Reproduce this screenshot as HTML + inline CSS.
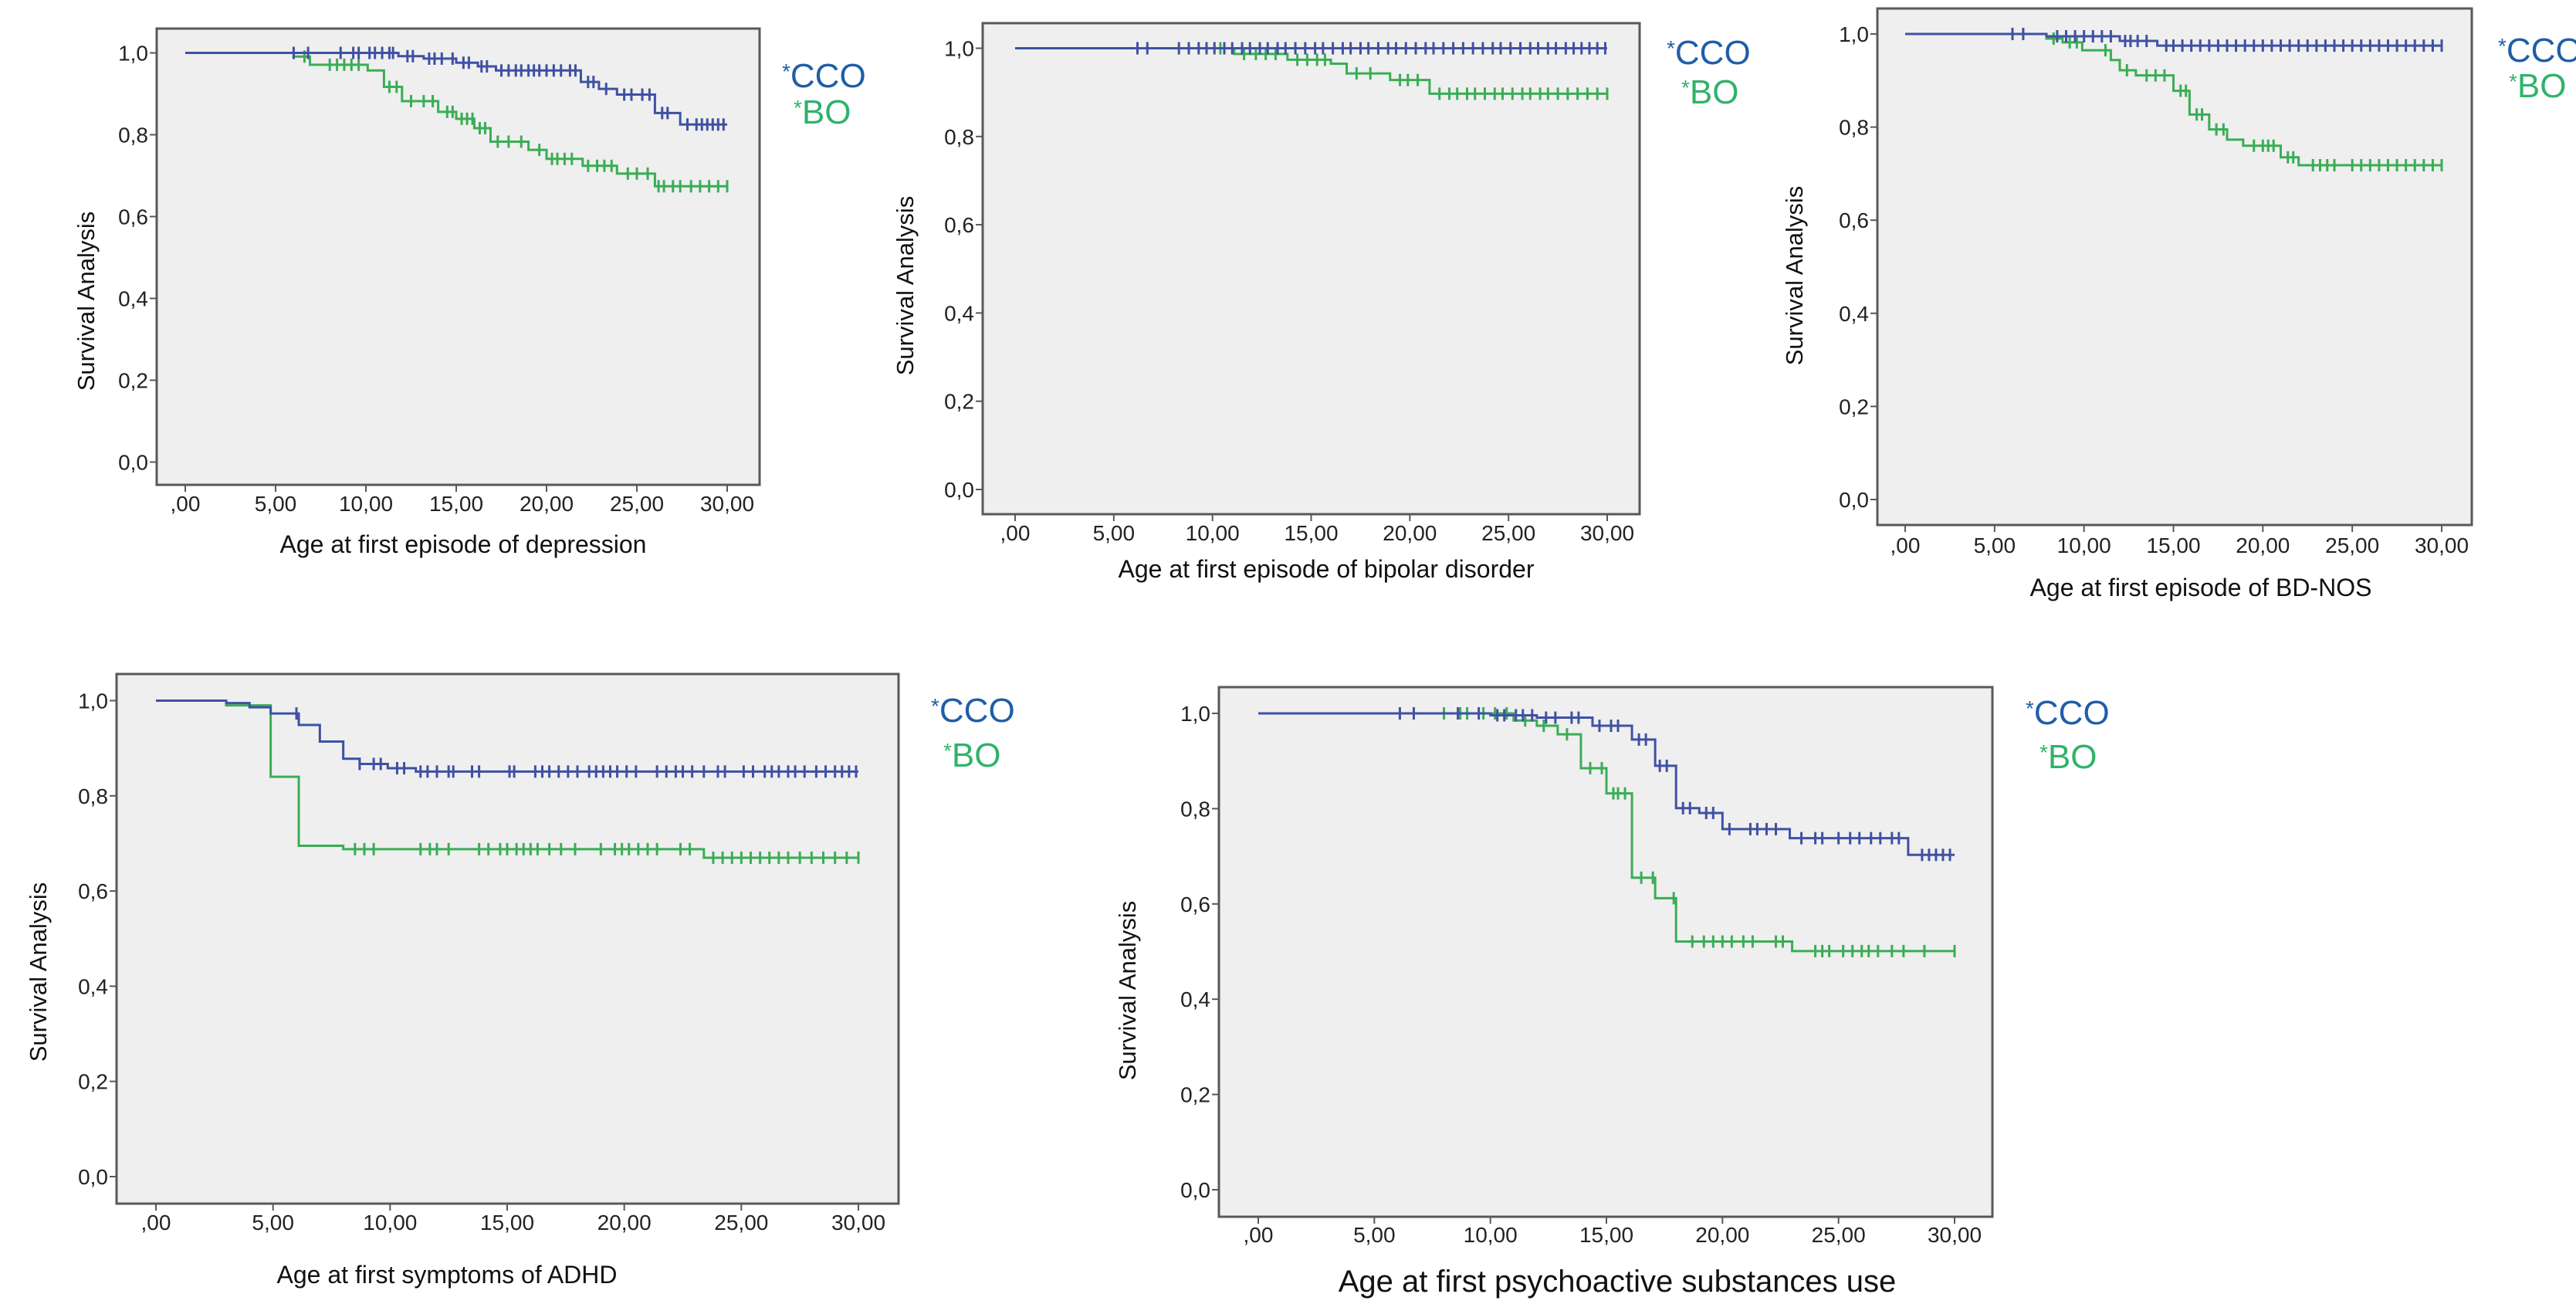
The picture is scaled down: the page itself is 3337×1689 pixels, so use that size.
<!DOCTYPE html>
<html><head><meta charset="utf-8"><style>
html,body{margin:0;padding:0;background:#fff;}
svg{display:block;}
text{font-family:"Liberation Sans",sans-serif;}
</style></head><body>
<svg id="root" width="3337" height="1689" viewBox="0 0 3337 1689"></svg>
<script>
// ---- Chart 1: depression ----
const dep_cco_t=[0,11.8,13.2,15,16.2,17.2,21.9,22.9,23.9,26,27.4];
const dep_cco_v=[1,0.992,0.986,0.976,0.967,0.957,0.929,0.912,0.898,0.853,0.825];
const dep_cco_c=[6,6.8,8.6,9.3,9.6,10.2,10.5,10.9,11.3,11.5,12.3,12.6,13.5,13.8,14.2,14.8,15.4,15.7,16.4,16.7,17.5,17.9,18.3,18.6,19,19.3,19.6,20,20.4,20.8,21.3,21.6,22.3,22.6,23.3,24.3,24.7,25.3,25.7,26.4,26.7,27.8,28.3,28.6,28.9,29.2,29.5,29.8];
const dep_bo_t=[0,6,6.9,10.1,11,12,14,15,16,16.9,19,20,22,23.9,26];
const dep_bo_v=[1,0.991,0.971,0.957,0.917,0.882,0.856,0.839,0.816,0.783,0.763,0.741,0.724,0.705,0.674];
const dep_bo_c=[6.6,8,8.4,8.8,9.2,9.6,11.3,11.7,12.5,13.2,13.7,14.5,14.8,15.3,15.6,15.9,16.3,16.6,17.3,17.9,18.6,19.6,20.3,20.6,21,21.4,22.3,22.8,23.2,23.6,24.5,25,25.6,26.2,26.5,27,27.4,28,28.5,29,29.5,30];
// ---- Chart 2: bipolar ----
const bip_cco_t=[0];
const bip_cco_v=[1];
const bip_cco_c=[6.2,6.7,8.3,8.8,9.3,9.7,10.1,10.6,11,11.5,11.9,12.4,12.8,13.3,13.7,14.2,14.7,15.2,15.6,16.1,16.6,17,17.5,17.9,18.4,18.9,19.3,19.8,20.3,20.8,21.2,21.7,22.2,22.7,23.2,23.7,24.2,24.6,25.1,25.6,26.1,26.5,27,27.4,27.9,28.3,28.7,29.1,29.5,29.9];
const bip_bo_t=[0,11.1,13.8,16,16.8,19,21];
const bip_bo_v=[1,0.987,0.974,0.965,0.943,0.928,0.897];
const bip_bo_c=[10.4,11.6,12.2,12.7,13.2,14.3,14.8,15.3,15.7,17.3,18,19.5,19.9,20.4,21.5,22,22.4,22.9,23.3,23.8,24.3,24.7,25.2,25.7,26.1,26.6,27,27.5,28,28.5,29,29.5,30];
// ---- Chart 3: BD-NOS ----
const bdn_cco_t=[0,7.9,12,14.1];
const bdn_cco_v=[1,0.995,0.985,0.975];
const bdn_cco_c=[6,6.6,8.5,9,9.5,10,10.5,11,11.5,12.3,12.6,13,13.5,14.6,15,15.5,16,16.5,17,17.5,18,18.5,19,19.5,20,20.5,21,21.5,22,22.5,23,23.5,24,24.5,25,25.5,26,26.5,27,27.5,28,28.5,29,29.5,30];
const bdn_bo_t=[0,7.9,8.8,9.9,11.5,12,12.9,15,15.9,17,18,18.9,21,22];
const bdn_bo_v=[1,0.99,0.982,0.965,0.944,0.922,0.911,0.878,0.827,0.795,0.773,0.76,0.735,0.718];
const bdn_bo_c=[8.3,9.2,9.6,11.2,12.4,13.5,14,14.5,15.4,15.7,16.3,16.6,17.4,17.8,19.5,20,20.3,20.6,21.4,21.7,22.8,23.2,23.6,24,25,25.5,26,26.5,27,27.5,28,28.5,29,29.5,30];
// ---- Chart 4: ADHD ----
const adh_cco_t=[0,3,4,4.9,6.1,7,8,8.7,9.9,11.1];
const adh_cco_v=[1,0.995,0.986,0.973,0.949,0.914,0.878,0.867,0.858,0.851];
const adh_cco_c=[6,8.7,9.3,9.6,10.3,10.6,11.3,11.6,12,12.5,12.7,13.5,13.8,15.1,15.3,16.2,16.5,16.8,17.2,17.6,18,18.5,18.8,19.1,19.4,19.7,20.1,20.5,21.4,21.8,22.2,22.5,22.9,23.4,24,24.3,25.1,25.5,26,26.3,26.6,27,27.3,27.7,28.2,28.6,29,29.3,29.6,29.9];
const adh_bo_t=[0,3,4.9,6.1,8,23.4];
const adh_bo_v=[1,0.99,0.84,0.695,0.688,0.67];
const adh_bo_c=[8.5,8.9,9.3,11.3,11.7,12,12.5,13.8,14.2,14.7,15,15.4,15.7,16,16.3,16.8,17.3,17.9,19,19.6,19.9,20.2,20.6,21,21.4,22.4,22.8,23.8,24.2,24.6,25,25.4,25.8,26.2,26.6,27,27.5,28,28.5,29,29.5,30];
// ---- Chart 5: substances ----
const sub_cco_t=[0,10,12,14.4,16.1,17.1,18,19,20,22.9,28];
const sub_cco_v=[1,0.996,0.991,0.974,0.945,0.89,0.801,0.791,0.757,0.738,0.703];
const sub_cco_c=[6.1,6.7,8.6,9.5,10.3,10.6,11.1,11.4,11.8,12.4,12.8,13.5,13.8,14.7,15.2,15.5,16.4,16.7,17.3,17.6,18.3,18.6,19.3,19.6,20.3,21.2,21.5,21.9,22.3,23.4,24,24.3,25,25.5,25.9,26.4,26.8,27.3,27.6,28.6,28.9,29.2,29.5,29.8];
const sub_bo_t=[0,11,12,12.9,13.9,15,16.1,17.1,18,23];
const sub_bo_v=[1,0.985,0.974,0.956,0.885,0.832,0.655,0.612,0.521,0.501];
const sub_bo_c=[8,8.7,9,9.7,10.2,10.7,11.5,12.3,13.3,14.3,14.8,15.3,15.5,15.8,16.5,17,17.9,18.7,19.2,19.6,20,20.4,20.9,21.3,22.3,22.6,24,24.3,24.6,25.2,25.6,26,26.3,26.7,27.3,27.8,28.7,30];
const xTicks=[0,5,10,15,20,25,30];
const xTickLabels=[",00","5,00","10,00","15,00","20,00","25,00","30,00"];
const yTicks=[0,0.2,0.4,0.6,0.8,1.0];
const yTickLabels=["0,0","0,2","0,4","0,6","0,8","1,0"];

const charts=[
 {name:"depression",title:"Age at first episode of depression",tfs:32,
  box:[203,37,984,628],x0:240,x30:942,y1:68.5,y0:598.5,
  leg:[1013,98,1028,145],ylab:[114,390],xlab:[600,705],tl:652,
  cco:[dep_cco_t,dep_cco_v,dep_cco_c],bo:[dep_bo_t,dep_bo_v,dep_bo_c]},
 {name:"bipolar",title:"Age at first episode of bipolar disorder",tfs:32,
  box:[1273,30,2124,666],x0:1315,x30:2082,y1:62.5,y0:634,
  leg:[2159,68,2178,119],ylab:[1175,370],xlab:[1718,737],tl:690,
  cco:[bip_cco_t,bip_cco_v,bip_cco_c],bo:[bip_bo_t,bip_bo_v,bip_bo_c]},
 {name:"bd-nos",title:"Age at first episode of BD-NOS",tfs:32,
  box:[2432,11,3202,680],x0:2468,x30:3163,y1:44,y0:647,
  leg:[3236,65,3250,111],ylab:[2327,357],xlab:[2851,761],tl:706,
  cco:[bdn_cco_t,bdn_cco_v,bdn_cco_c],bo:[bdn_bo_t,bdn_bo_v,bdn_bo_c]},
 {name:"adhd",title:"Age at first symptoms of ADHD",tfs:32,
  box:[151,873,1164,1559],x0:202,x30:1112,y1:907.5,y0:1524,
  leg:[1206,920,1222,978],ylab:[52,1259],xlab:[579,1651],tl:1583,
  cco:[adh_cco_t,adh_cco_v,adh_cco_c],bo:[adh_bo_t,adh_bo_v,adh_bo_c]},
 {name:"substances",title:"Age at first psychoactive substances use",tfs:40,
  box:[1579,890,2581,1576],x0:1630,x30:2532,y1:924,y0:1541,
  leg:[2624,923,2642,980],ylab:[1463,1283],xlab:[2095,1659],tl:1599,
  cco:[sub_cco_t,sub_cco_v,sub_cco_c],bo:[sub_bo_t,sub_bo_v,sub_bo_c]}
];
const NS="http://www.w3.org/2000/svg";
const root=document.getElementById('root');
function mk(tag,attrs,parent,txt){const e=document.createElementNS(NS,tag);for(const k in attrs)e.setAttribute(k,attrs[k]);if(txt!==undefined)e.textContent=txt;parent.appendChild(e);return e;}
function stepVal(t,v,x){let r=v[0];for(let i=0;i<t.length;i++){if(t[i]<=x)r=v[i];}return r;}
charts.forEach(c=>{
 const g=mk('g',{},root);
 
 
 const xs=v=>c.x0+(c.x30-c.x0)*v/30;
 const ys=v=>c.y0-(c.y0-c.y1)*v;
 const [bx1,by1,bx2,by2]=c.box;
 const bg=mk('rect',{x:bx1,y:by1,width:bx2-bx1,height:by2-by1,fill:'#efefef',stroke:'#585858','stroke-width':3},g);
 
 
 yTicks.forEach((v,i)=>{
  mk('line',{x1:bx1-9,x2:bx1,y1:ys(v),y2:ys(v),stroke:'#585858','stroke-width':2},g);
  const t=mk('text',{x:bx1-11,y:ys(v)+10,'font-size':28,'text-anchor':'end',fill:'#222'},g,yTickLabels[i]);
  
  
 });
 xTicks.forEach((v,i)=>{
  mk('line',{x1:xs(v),x2:xs(v),y1:by2,y2:by2+9,stroke:'#585858','stroke-width':2},g);
  const t=mk('text',{x:xs(v),y:c.tl+10,'font-size':28,'text-anchor':'middle',fill:'#222'},g,xTickLabels[i]);
  
  
 });
 const yl=mk('text',{x:c.ylab[0],y:c.ylab[1],'font-size':31,'text-anchor':'middle',fill:'#111',transform:`rotate(-90 ${c.ylab[0]} ${c.ylab[1]})`,'dominant-baseline':'middle'},g,'Survival Analysis');
 
 
 const xl=mk('text',{x:c.xlab[0],y:c.xlab[1]+c.tfs*0.35,'font-size':c.tfs,'text-anchor':'middle',fill:'#111'},g,c.title);
 
 
 [['bo','#3aad55'],['cco','#3f51a3']].forEach(([key,col])=>{
  const [t,v,cen]=c[key];
  let d=`M${xs(0)},${ys(v[0])}`;
  for(let i=1;i<t.length;i++){d+=` H${xs(t[i])} V${ys(v[i])}`;}
  d+=` H${xs(30)}`;
  const p=mk('path',{d:d,fill:'none',stroke:col,'stroke-width':3},g);
  
  
  cen.forEach(x=>{
   const y=ys(stepVal(t,v,x));
   const m=mk('line',{x1:xs(x),x2:xs(x),y1:y-8,y2:y+8,stroke:col,'stroke-width':3},g);
   
   
  });
 });
 const l1=mk('text',{x:c.leg[0],y:c.leg[1]+15,'font-size':44,fill:'#1f5ea8'},g);
 
 
 mk('tspan',{'font-size':28,dy:-11},l1,'*');
 mk('tspan',{dy:11},l1,'CCO');
 const l2=mk('text',{x:c.leg[2],y:c.leg[3]+15,'font-size':44,fill:'#2fb36a'},g);
 
 
 mk('tspan',{'font-size':28,dy:-11},l2,'*');
 mk('tspan',{dy:11},l2,'BO');
});
</script>
</body></html>
